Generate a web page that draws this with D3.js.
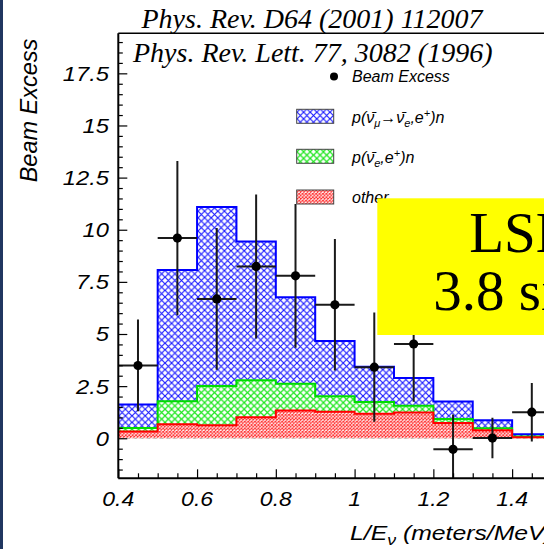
<!DOCTYPE html>
<html><head><meta charset="utf-8">
<script src="https://cdn.jsdelivr.net/npm/d3@7"></script>
<style>
html,body{margin:0;padding:0;background:#fff;overflow:hidden}
svg{display:block}
</style></head>
<body>
<script>
// ---- data ----
const binEdges = [0.4,0.5,0.6,0.7,0.8,0.9,1.0,1.1,1.2,1.3,1.4,1.5];
const otherVals = [0.32,0.67,0.63,1.01,1.33,1.27,1.17,1.24,0.73,0.38,0.05];
const nueVals   = [0.17,1.11,1.88,1.77,1.28,0.74,0.57,0.32,0.19,0.10,0.04];
const numuVals  = [1.13,6.29,8.58,6.65,4.15,2.66,1.69,1.33,0.84,0.38,0.10];
const pointX   = [0.45,0.55,0.65,0.75,0.85,0.95,1.05,1.15,1.25,1.35,1.45];
const pointY   = [3.49,9.6,6.68,8.24,7.79,6.4,3.41,4.52,-0.53,0.01,1.25];
const pointErr = [2.2,3.7,3.4,3.45,3.45,3.15,2.62,2.77,1.67,0.97,1.4];
const yMajorTicks = [0,2.5,5,7.5,10,12.5,15,17.5];
const yTickLabels = ["0","2.5","5","7.5","10","12.5","15","17.5"];
const xMajorTicks = [0.4,0.6,0.8,1.0,1.2,1.4];
const xTickLabels = ["0.4","0.6","0.8","1","1.2","1.4"];
const titles = ["Phys. Rev. D64 (2001) 112007","Phys. Rev. Lett. 77, 3082 (1996)"];

const W=544,H=549;
const svg=d3.select("body").append("svg").attr("width",W).attr("height",H);
const defs=svg.append("defs");

function hatch(id,size,color,sw){
  const p=defs.append("pattern").attr("id",id).attr("patternUnits","userSpaceOnUse")
    .attr("width",size).attr("height",size);
  p.append("rect").attr("width",size).attr("height",size).attr("fill","#fff");
  p.append("path").attr("d",`M${-1},${-1}L${size+1},${size+1}M${size+1},${-1}L${-1},${size+1}`)
    .attr("stroke",color).attr("stroke-width",sw).attr("fill","none");
}
hatch("pBlue",6.6,"#1a1aff",1.15);
hatch("pGreen",6.6,"#1ee61e",1.2);
hatch("pRed",3.4,"#ff3030",0.95);

const x=d3.scaleLinear().domain([0.4,1.5]).range([118.3,551.5]);
const y=d3.scaleLinear().domain([-1.92,19.42]).range([478.3,33.3]);

svg.append("rect").attr("x",0).attr("y",0).attr("width",3).attr("height",H).attr("fill","#203660");

defs.append("clipPath").attr("id","plotClip").append("rect")
  .attr("x",x(0.4)).attr("y",y(19.42)).attr("width",x(1.5)-x(0.4)).attr("height",y(-1.92)-y(19.42));

const plot=svg.append("g").attr("clip-path","url(#plotClip)");

// stacked histogram
const rows=otherVals.map((d,i)=>({other:d,nue:nueVals[i],numu:numuVals[i]}));
const stack=d3.stack().keys(["other","nue","numu"])(rows);
const topOther=stack[0].map(d=>d[1]);
const topNue=stack[1].map(d=>d[1]);
const topNumu=stack[2].map(d=>d[1]);

function stepPath(tops,closed){
  let d=`M${x(binEdges[0])},${y(0)}`;
  tops.forEach((t,i)=>{ d+=`L${x(binEdges[i])},${y(t)}L${x(binEdges[i+1])},${y(t)}`; });
  d+=`L${x(binEdges[binEdges.length-1])},${y(0)}`;
  if(closed) d+="Z";
  return d;
}
[[topNumu,"pBlue","#0000ff"],[topNue,"pGreen","#00dd00"],[topOther,"pRed","#ff0000"]].forEach(([t,p,c])=>{
  plot.append("path").attr("d",stepPath(t,true)).attr("fill",`url(#${p})`).attr("stroke","none");
  plot.append("path").attr("d",stepPath(t,false)).attr("fill","none").attr("stroke",c).attr("stroke-width",2);
});

// data points
const pts=plot.append("g").attr("stroke","#1a1a1a").attr("stroke-width",2);
pointX.forEach((px,i)=>{
  pts.append("line").attr("x1",x(px)).attr("x2",x(px)).attr("y1",y(pointY[i]-pointErr[i])).attr("y2",y(pointY[i]+pointErr[i]));
  pts.append("line").attr("x1",x(px-0.05)).attr("x2",x(px+0.05)).attr("y1",y(pointY[i])).attr("y2",y(pointY[i]));
  plot.append("circle").attr("cx",x(px)).attr("cy",y(pointY[i])).attr("r",4.6).attr("fill","#000");
});

// axes frame
const ax=svg.append("g").attr("stroke","#000");
ax.append("line").attr("x1",x(0.4)).attr("x2",W).attr("y1",y(-1.92)).attr("y2",y(-1.92)).attr("stroke-width",2);
ax.append("line").attr("x1",x(0.4)).attr("x2",x(0.4)).attr("y1",y(19.42)).attr("y2",y(-1.92)).attr("stroke-width",2);
ax.append("line").attr("x1",x(0.4)).attr("x2",W).attr("y1",y(19.42)).attr("y2",y(19.42)).attr("stroke-width",1.5);

// y ticks via d3 axis
const yMinor=d3.range(-1.5,19.42,0.5).filter(v=>yMajorTicks.indexOf(v)<0);
svg.append("g").attr("transform",`translate(${x(0.4)},0)`)
  .call(d3.axisLeft(y).tickValues(yMinor).tickSize(-4.5).tickFormat(""))
  .call(g=>{g.select(".domain").remove();g.selectAll("line").attr("stroke","#000").attr("stroke-width",1.2);});
svg.append("g").attr("transform",`translate(${x(0.4)},0)`)
  .call(d3.axisLeft(y).tickValues(yMajorTicks).tickSize(-9).tickFormat(""))
  .call(g=>{g.select(".domain").remove();g.selectAll("line").attr("stroke","#000").attr("stroke-width",1.2);});
const xMinor=d3.range(0.45,1.5,0.05).filter(v=>!xMajorTicks.some(m=>Math.abs(m-v)<1e-6));
svg.append("g").attr("transform",`translate(0,${y(-1.92)})`)
  .call(d3.axisBottom(x).tickValues(xMinor).tickSize(-5).tickFormat(""))
  .call(g=>{g.select(".domain").remove();g.selectAll("line").attr("stroke","#000").attr("stroke-width",1.2);});
svg.append("g").attr("transform",`translate(0,${y(-1.92)})`)
  .call(d3.axisBottom(x).tickValues(xMajorTicks).tickSize(-9).tickFormat(""))
  .call(g=>{g.select(".domain").remove();g.selectAll("line").attr("stroke","#000").attr("stroke-width",1.2);});

function sText(tx,ty,str,size,sx,anchor){
  return svg.append("g").attr("transform",`translate(${tx},${ty}) scale(${sx},1)`)
    .append("text").attr("text-anchor",anchor).attr("font-family","Liberation Sans, Arial, sans-serif")
    .attr("font-style","italic").attr("font-size",size).attr("fill","#000").text(str);
}
yMajorTicks.forEach((v,i)=>sText(109,y(v)+7.5,yTickLabels[i],21,1.13,"end"));
xMajorTicks.forEach((v,i)=>sText(x(v),506,xTickLabels[i],20,1.15,"middle"));

// axis titles
svg.append("text").attr("transform",`translate(37,110.5) rotate(-90)`).attr("text-anchor","middle")
  .attr("font-family","Liberation Sans, Arial, sans-serif").attr("font-style","italic").attr("font-size",23.5)
  .text("Beam Excess");
const xt=svg.append("g").attr("transform","translate(350,540) scale(1.18,1)").append("text")
  .attr("font-family","Liberation Sans, Arial, sans-serif").attr("font-style","italic").attr("font-size",21);
xt.append("tspan").text("L/E");
xt.append("tspan").attr("font-size",15).attr("dy",5).text("ν");
xt.append("tspan").attr("dy",-5).text(" (meters/MeV)");

// titles
titles.forEach((t,i)=>svg.append("text").attr("x",i?133:141.5).attr("y",i?62:28.3)
  .attr("font-family","Liberation Serif, Times New Roman, serif").attr("font-style","italic")
  .attr("font-size",28).text(t));

// legend
const lg=svg.append("g").attr("font-family","Liberation Sans, Arial, sans-serif").attr("font-style","italic").attr("font-size",16);
lg.append("circle").attr("cx",334).attr("cy",76.5).attr("r",4).attr("fill","#000");
lg.append("text").attr("x",352).attr("y",81.7).text("Beam Excess");
const boxes=[["pBlue",109.3],["pGreen",149.3],["pRed",190]];
boxes.forEach(([p,by])=>lg.append("rect").attr("x",296.7).attr("y",by).attr("width",37).attr("height",14)
  .attr("fill",`url(#${p})`).attr("stroke","#444").attr("stroke-width",1));
const t1=lg.append("text").attr("x",352).attr("y",122.7);
t1.append("tspan").text("p(ν̄");
t1.append("tspan").attr("font-size",11).attr("dy",4).text("μ");
t1.append("tspan").attr("dy",-4).text("→ν̄");
t1.append("tspan").attr("font-size",11).attr("dy",4).text("e");
t1.append("tspan").attr("dy",-4).text(",e");
t1.append("tspan").attr("font-size",11).attr("dy",-6).text("+");
t1.append("tspan").attr("dy",6).text(")n");
const t2=lg.append("text").attr("x",352).attr("y",163);
t2.append("tspan").text("p(ν̄");
t2.append("tspan").attr("font-size",11).attr("dy",4).text("e");
t2.append("tspan").attr("dy",-4).text(",e");
t2.append("tspan").attr("font-size",11).attr("dy",-6).text("+");
t2.append("tspan").attr("dy",6).text(")n");
lg.append("text").attr("x",352).attr("y",203).text("other");

// yellow box
svg.append("rect").attr("x",377.3).attr("y",198.3).attr("width",W-377.3).attr("height",335-198.3).attr("fill","#ffff00");
const bt=svg.append("g").attr("font-family","Liberation Serif, Times New Roman, serif").attr("font-size",57).attr("fill","#000");
bt.append("text").attr("x",469.3).attr("y",251.7).text("LSND");
bt.append("text").attr("x",433.3).attr("y",310).text("3.8 sigma");
</script>
</body></html>
